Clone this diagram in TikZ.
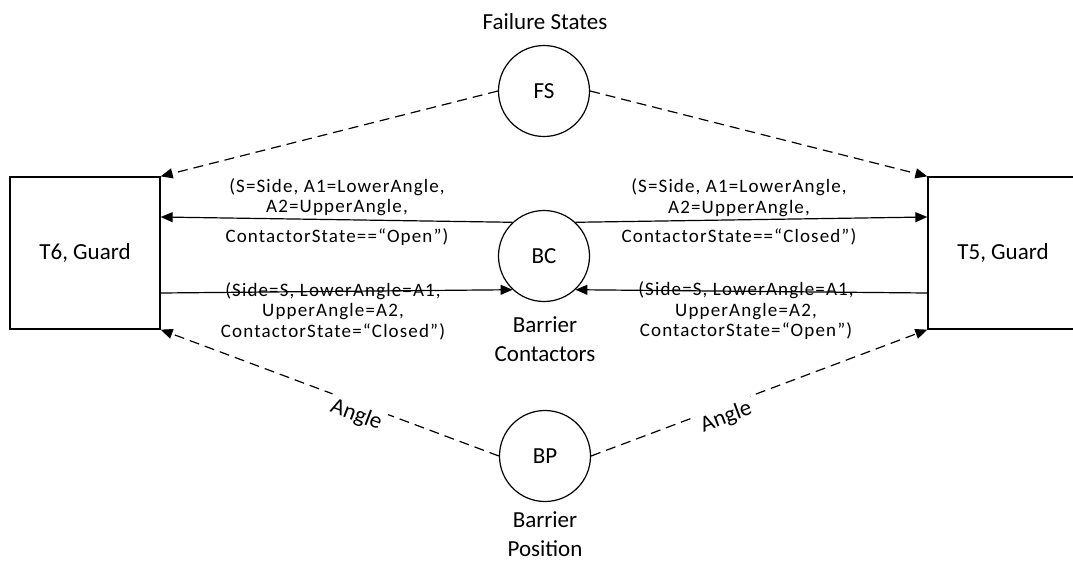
\documentclass[tikz,border=0pt]{standalone}
\usepackage{fontspec}
\setmainfont{Carlito}
\newfontfamily\inscfont[LetterSpace=6]{Carlito}
\usetikzlibrary{arrows.meta,positioning}

\begin{document}
\begin{tikzpicture}[
  x=1pt, y=-1pt,
  place/.style={draw, circle, minimum size=91pt, inner sep=0pt, line width=1.2pt, font=\fontsize{23}{27}\selectfont},
  trans/.style={draw, rectangle, minimum width=150pt, minimum height=152pt, line width=1.3pt, font=\fontsize{23}{27}\selectfont},
  lbl/.style={font=\fontsize{23}{29}\selectfont, align=center},
  guard/.style={font=\inscfont\fontsize{19}{20.5}\selectfont, align=center, inner sep=0pt},
  anglelbl/.style={sloped, fill=white, inner sep=3pt, font=\fontsize{23}{27}\selectfont},
  arr/.style={-{Triangle[length=12pt,width=10pt]}, line width=1.2pt},
  darr/.style={arr, dash pattern=on 10pt off 6pt},
]
\useasboundingbox (0,0) rectangle (1073,563);

% Transitions and places
\node[trans] (T6) at (85,253) {T6, Guard};
\node[trans] (T5) at (1003,253) {T5, Guard};
\node[place] (FS) at (544,91) {FS};
\node[place] (BC) at (544,256) {BC};
\node[place] (BP) at (545,456) {BP};

% Place names
\node[lbl] (FSname) at (545,22) {Failure States};
\node[lbl] (BCname) at (545,339) {Barrier\\Contactors};
\node[lbl] (BPname) at (545,534) {Barrier\\Position};

% Contactor arcs
\draw[arr] (BC.133) -- ([yshift=36pt]T6.east);
\draw[arr] (BC.47) -- ([yshift=36pt]T5.west);
\draw[arr] ([yshift=-40pt]T6.east) -- (BC.227);
\draw[arr] ([yshift=-40pt]T5.west) -- (BC.313);

% Arc inscriptions
\node[guard] (openL) at (337,212) {(S=Side, A1=LowerAngle,\\A2=UpperAngle,\\[9pt]ContactorState==“Open”)};
\node[guard] (closedR) at (739,212) {(S=Side, A1=LowerAngle,\\A2=UpperAngle,\\[9pt]ContactorState==“Closed”)};
\node[guard] (closedL) at (333,311) {(Side=S, LowerAngle=A1,\\UpperAngle=A2,\\ContactorState=“Closed”)};
\node[guard] (openR) at (746,311) {(Side=S, LowerAngle=A1,\\UpperAngle=A2,\\ContactorState=“Open”)};

% Failure and position arcs
\draw[darr] (FS.west) -- (T6.north east);
\draw[darr] (FS.east) -- (T5.north west);
\draw[darr] (BP.west) -- node[anglelbl, pos=0.41, below=-2pt] {Angle} (T6.south east);
\draw[darr] (BP.east) -- node[anglelbl, pos=0.39, below=-2pt] {Angle} (T5.south west);
\end{tikzpicture}
\end{document}
